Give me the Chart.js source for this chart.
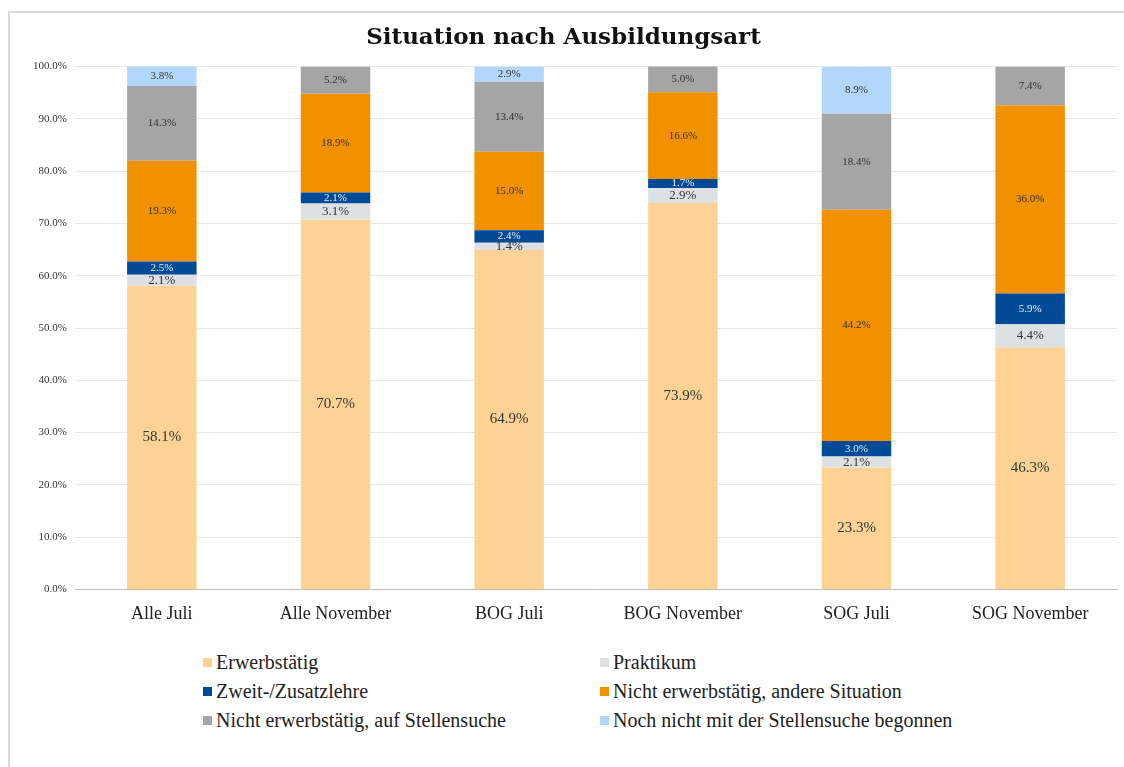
<!DOCTYPE html>
<html>
<head>
<meta charset="utf-8">
<script src="https://cdn.jsdelivr.net/npm/chart.js@4"></script>
<style>
  body { margin: 0; background: #fff; font-family: "Liberation Serif", serif; }
  #frame { position: absolute; left: 8px; top: 11px; width: 1116px; height: 756px; border-left: 2px solid #dadada; border-top: 2px solid #dadada; box-sizing: border-box; }
  #wrap { position: absolute; left: 0; top: 0; width: 1112px; height: 622px; }
  #legend { position: absolute; left: 193px; top: 639px; display: grid; grid-template-columns: 397px 420px; row-gap: 8px; font-size: 20px; color: #222; }
  #legend div { display: flex; align-items: center; height: 21px; white-space: nowrap; }
  #legend span.box { display: inline-block; width: 9px; height: 9px; margin-right: 4px; }
</style>
</head>
<body>
<div id="frame">
  <div id="wrap"><canvas id="situationChart"></canvas></div>
  <div id="legend"></div>
</div>
<script>
var categories = ['Alle Juli', 'Alle November', 'BOG Juli', 'BOG November', 'SOG Juli', 'SOG November'];
var erwerbstaetig = [58.1, 70.7, 64.9, 73.9, 23.3, 46.3];
var praktikum = [2.1, 3.1, 1.4, 2.9, 2.1, 4.4];
var zweitlehre = [2.5, 2.1, 2.4, 1.7, 3.0, 5.9];
var andereSituation = [19.3, 18.9, 15.0, 16.6, 44.2, 36.0];
var stellensuche = [14.3, 5.2, 13.4, 5.0, 18.4, 7.4];
var nochNicht = [3.8, 0, 2.9, 0, 8.9, 0];
var yTicks = [0, 10, 20, 30, 40, 50, 60, 70, 80, 90, 100];

var series = [
  { label: 'Erwerbstätig', data: erwerbstaetig, color: '#fdd395', text: '#333', size: 15 },
  { label: 'Praktikum', data: praktikum, color: '#dee1e4', text: '#333', size: 13 },
  { label: 'Zweit-/Zusatzlehre', data: zweitlehre, color: '#004a97', text: '#e8eef8', size: 11 },
  { label: 'Nicht erwerbstätig, andere Situation', data: andereSituation, color: '#f29100', text: '#333', size: 11 },
  { label: 'Nicht erwerbstätig, auf Stellensuche', data: stellensuche, color: '#a5a5a5', text: '#333', size: 11 },
  { label: 'Noch nicht mit der Stellensuche begonnen', data: nochNicht, color: '#b3d7fb', text: '#333', size: 11 }
];

// simple inline value labels, centred in each segment
var segmentLabels = {
  id: 'segmentLabels',
  afterDatasetsDraw: function(chart) {
    var ctx = chart.ctx;
    ctx.save();
    ctx.textAlign = 'center';
    ctx.textBaseline = 'middle';
    chart.data.datasets.forEach(function(ds, i) {
      var meta = chart.getDatasetMeta(i);
      var s = series[i];
      ctx.font = s.size + 'px "Liberation Serif", serif';
      ctx.fillStyle = s.text;
      meta.data.forEach(function(bar, j) {
        var v = ds.data[j];
        if (!v) return;
        ctx.fillText(v.toFixed(1) + '%', bar.x, (bar.y + bar.base) / 2);
      });
    });
    ctx.restore();
  }
};

var ctx = document.getElementById('situationChart').getContext('2d');
var situationChart = new Chart(ctx, {
  type: 'bar',
  data: {
    labels: categories,
    datasets: series.map(function(s) {
      return {
        label: s.label,
        data: s.data,
        backgroundColor: s.color,
        borderWidth: 0,
        categoryPercentage: 1.0,
        barPercentage: 0.4
      };
    })
  },
  options: {
    responsive: true,
    maintainAspectRatio: false,
    animation: false,
    layout: { padding: { right: 5, bottom: 4 } },
    plugins: {
      legend: { display: false },
      tooltip: { enabled: false },
      title: {
        display: true,
        text: 'Situation nach Ausbildungsart',
        color: '#111',
        font: { family: '"DejaVu Serif", serif', size: 23, weight: 'bold' },
        padding: { top: 11, bottom: 15 }
      }
    },
    scales: {
      x: {
        stacked: true,
        grid: { display: false },
        border: { color: '#bfbfbf', width: 1 },
        ticks: { color: '#222', font: { family: '"Liberation Serif", serif', size: 18 }, padding: 6 }
      },
      y: {
        stacked: true,
        min: 0,
        max: 100,
        afterFit: function(scale) { scale.width = 65; },
        afterBuildTicks: function(scale) { scale.ticks = yTicks.map(function(v) { return { value: v }; }); },
        grid: { color: '#e8e8e8', drawTicks: false },
        border: { display: false },
        ticks: {
          color: '#333',
          padding: 8,
          font: { family: '"Liberation Serif", serif', size: 11 },
          callback: function(v) { return v.toFixed(1) + '%'; }
        }
      }
    }
  },
  plugins: [segmentLabels]
});

var legend = document.getElementById('legend');
series.forEach(function(s) {
  var item = document.createElement('div');
  item.innerHTML = '<span class="box" style="background:' + s.color + '"></span>' + s.label;
  legend.appendChild(item);
});
</script>
</body>
</html>
